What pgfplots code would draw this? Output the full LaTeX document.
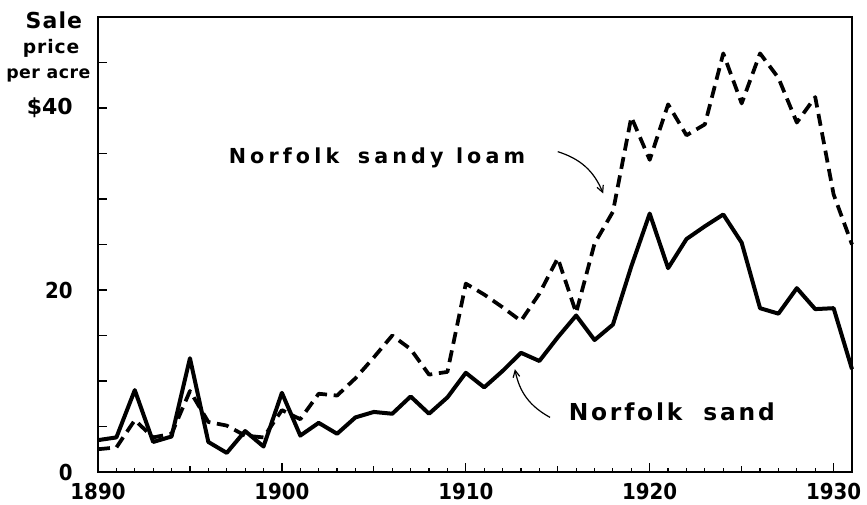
\documentclass[border=0pt]{standalone}
\usepackage{fontspec}
\setmainfont{DejaVu Sans}
\newfontfamily\numfont{DejaVu Sans Condensed Bold}
\newfontfamily\labfont{DejaVu Sans Bold}[LetterSpace=12]
\newfontfamily\widefont{DejaVu Sans Bold}[LetterSpace=20]
\newfontfamily\smallfont{DejaVu Sans Bold}[LetterSpace=5]
\newfontfamily\tightfont{DejaVu Sans Bold}[LetterSpace=3]
\newfontfamily\boldfont{DejaVu Sans Bold}
\usepackage{pgfplots}
\pgfplotsset{compat=1.18}
\usetikzlibrary{arrows.meta}

\pgfplotstableread{
year val
1890 3.5
1891 3.8
1892 9.0
1893 3.3
1894 3.9
1895 12.5
1896 3.3
1897 2.1
1898 4.5
1899 2.8
1900 8.7
1901 4.0
1902 5.4
1903 4.2
1904 6.0
1905 6.6
1906 6.4
1907 8.3
1908 6.4
1909 8.2
1910 10.9
1911 9.3
1912 11.1
1913 13.1
1914 12.2
1915 14.8
1916 17.2
1917 14.5
1918 16.2
1919 22.6
1920 28.4
1921 22.4
1922 25.6
1923 27.0
1924 28.3
1925 25.2
1926 18.0
1927 17.4
1928 20.2
1929 17.9
1930 18.0
1931 11.3
}\sandtable

\pgfplotstableread{
year val
1890 2.5
1891 2.7
1892 5.7
1893 3.8
1894 4.2
1895 8.9
1896 5.5
1897 5.1
1898 4.0
1899 3.8
1900 6.8
1901 5.8
1902 8.6
1903 8.4
1904 10.3
1905 12.6
1906 15.0
1907 13.5
1908 10.7
1909 11.0
1910 20.7
1911 19.5
1912 18.1
1913 16.6
1914 19.6
1915 23.5
1916 17.5
1917 25.1
1918 28.6
1919 39.0
1920 34.3
1921 40.4
1922 37.0
1923 38.2
1924 46.0
1925 40.5
1926 46.0
1927 43.3
1928 38.4
1929 41.2
1930 30.5
1931 25.0
}\loamtable

\begin{document}
\begin{tikzpicture}
\useasboundingbox (0,0) rectangle (650.25pt,378.75pt);
\begin{axis}[
  at={(73.5pt,24.75pt)}, anchor=south west,
  scale only axis,
  width=565.5pt, height=341.25pt,
  xmin=1890, xmax=1931, ymin=0, ymax=50,
  clip=false,
  axis line style={line width=0.8pt},
  tick align=inside,
  xtick pos=bottom, ytick pos=left,
  xtick={1890,1900,1910,1920,1930},
  xticklabels={1890,1900,1910,1920,1930},
  minor xtick={1891,1892,...,1931},
  extra x ticks={1895,1905,1915,1925},
  extra x tick labels={},
  extra x tick style={major tick length=4.5pt},
  major tick length=7pt,
  minor tick length=3pt,
  every tick/.style={black, line width=0.9pt},
  ytick={0,5,...,45},
  yticklabels={{0},{},{},{},{20},{},{},{},{\boldfont\$40},{}},
  xticklabel style={font=\numfont\fontsize{16.5}{18}\selectfont, inner sep=0pt, yshift=-8pt},
  yticklabel style={font=\numfont\fontsize{16.5}{18}\selectfont, inner sep=0pt, xshift=-18.75pt},
]
\draw[line width=1.6pt] (rel axis cs:0,1) -- (rel axis cs:0,0) -- (rel axis cs:1,0);
\addplot[black, line width=2.8pt, line join=round, dash pattern=on 9pt off 5pt] table[x=year,y=val] {\loamtable};
\addplot[black, line width=3pt, line join=round] table[x=year,y=val] {\sandtable};

\node[font=\widefont\fontsize{15.5}{18}\selectfont] at (axis cs:1905.17,34.5) {Norfolk\hspace{0.9em}sandy\hspace{0.6em}loam};
\draw[-{Straight Barb[length=5pt,width=5pt]}, line width=0.9pt] (axis cs:1915.0,35.2) to[bend left=25] (axis cs:1917.47,30.6);

\node[font=\labfont\fontsize{17.5}{20}\selectfont] at (axis cs:1921.2,6.6) {Norfolk\hspace{0.9em}sand};
\draw[-{Straight Barb[length=5pt,width=5pt]}, line width=0.9pt] (axis cs:1914.58,6.0) to[bend left=25] (axis cs:1912.67,11.3);

\node[font=\smallfont\fontsize{16.5}{20}\selectfont] at (axis cs:1887.6,49.6) {Sale};
\node[font=\smallfont\fontsize{14}{16}\selectfont] at (axis cs:1887.45,46.5) {price};
\node[font=\tightfont\fontsize{13}{16}\selectfont] at (axis cs:1887.3,43.6) {per acre};
\end{axis}
\end{tikzpicture}
\end{document}
